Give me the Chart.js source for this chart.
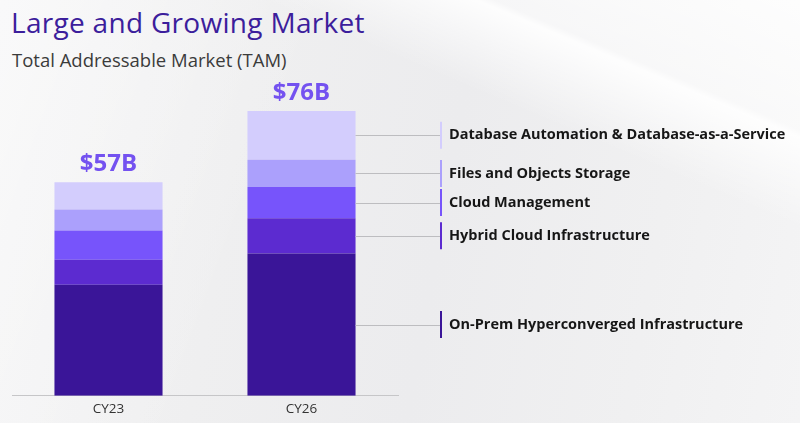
<!DOCTYPE html>
<html>
<head>
<meta charset="utf-8">
<script src="https://cdn.jsdelivr.net/npm/chart.js@4.4.1/dist/chart.umd.min.js"></script>
<style>
  html, body { margin: 0; padding: 0; }
  body { width: 800px; height: 423px; overflow: hidden; }
  #wrap {
    position: relative; width: 800px; height: 423px;
    background:
      linear-gradient(203deg, rgba(255,255,255,0.85) 0%, rgba(255,255,255,0.55) 17%, rgba(255,255,255,0.9) 18%, rgba(255,255,255,0) 30%),
      linear-gradient(110deg, rgba(255,255,255,0.5) 0%, rgba(255,255,255,0) 35%),
      linear-gradient(100deg, #f4f4f5 0%, #efeff0 30%, #ececee 55%, #f0f0f1 80%, #f4f4f5 100%);
  }
  #title {
    position: absolute; left: 11px; top: 3px; margin: 0;
    font-family: "Open Sans", sans-serif; font-weight: 400; font-size: 28px;
    color: #3c1e9c; letter-spacing: 0.3px;
  }
  #subtitle {
    position: absolute; left: 12px; top: 47px; margin: 0;
    font-family: "Open Sans", sans-serif; font-weight: 400; font-size: 18.5px;
    color: #3b3b3b;
  }
  canvas { position: absolute; left: 0; top: 0; }
</style>
</head>
<body>
<div id="wrap">
  <h1 id="title">Large and Growing Market</h1>
  <h2 id="subtitle">Total Addressable Market (TAM)</h2>
  <canvas id="tam-chart" width="800" height="423"></canvas>
</div>
<script>
// values in $B
const categories = ['CY23', 'CY26'];
const totalLabels = ['$57B', '$76B'];
const segmentNames = [
  'On-Prem Hyperconverged Infrastructure',
  'Hybrid Cloud Infrastructure',
  'Cloud Management',
  'Files and Objects Storage',
  'Database Automation & Database-as-a-Service'
];
const onPrem = [29.6, 38.0];
const hybridCloud = [6.7, 9.4];
const cloudMgmt = [7.8, 8.3];
const filesStorage = [5.6, 7.3];
const dbAutomation = [7.3, 13.0];

const segmentColors = ['#3a1598', '#5c2bd0', '#7754fb', '#aba0fc', '#d3cdfd'];
const seriesValues = [onPrem, hybridCloud, cloudMgmt, filesStorage, dbAutomation];

const segmentLabels = {
  id: 'segmentLabels',
  afterDatasetsDraw(chart) {
    const ctx = chart.ctx;
    const lastIdx = categories.length - 1;
    ctx.save();
    // totals above each bar
    const topMeta = chart.getDatasetMeta(chart.data.datasets.length - 1);
    ctx.font = 'bold 24px "Open Sans"';
    ctx.fillStyle = '#7452f0';
    ctx.textAlign = 'center';
    ctx.textBaseline = 'middle';
    topMeta.data.forEach((bar, i) => {
      ctx.fillText(totalLabels[i], bar.x, bar.y - 18);
    });
    // connectors and names for the last bar
    const lineEnd = 440;
    chart.data.datasets.forEach((ds, d) => {
      const bar = chart.getDatasetMeta(d).data[lastIdx];
      const mid = (bar.y + bar.base) / 2;
      ctx.strokeStyle = '#bdbdc0';
      ctx.lineWidth = 1;
      ctx.beginPath();
      ctx.moveTo(bar.x + bar.width / 2, Math.round(mid) + 0.5);
      ctx.lineTo(lineEnd, Math.round(mid) + 0.5);
      ctx.stroke();
      ctx.strokeStyle = ds.backgroundColor;
      ctx.lineWidth = 2;
      ctx.beginPath();
      ctx.moveTo(lineEnd + 1, mid - 13.5);
      ctx.lineTo(lineEnd + 1, mid + 13.5);
      ctx.stroke();
      ctx.font = 'bold 14.5px "Open Sans"';
      ctx.fillStyle = '#161616';
      ctx.textAlign = 'left';
      ctx.fillText(ds.label, 449, mid);
    });
    ctx.restore();
  }
};

new Chart(document.getElementById('tam-chart'), {
  type: 'bar',
  data: {
    labels: categories,
    datasets: seriesValues.map((vals, i) => ({
      label: segmentNames[i],
      data: vals,
      backgroundColor: segmentColors[i],
      borderWidth: 0,
      categoryPercentage: 1.0,
      barPercentage: 0.56
    }))
  },
  options: {
    responsive: false,
    animation: false,
    devicePixelRatio: 1,
    layout: { padding: { top: 96, left: 12, right: 402, bottom: 1 } },
    plugins: {
      legend: { display: false },
      tooltip: { enabled: false }
    },
    scales: {
      x: {
        stacked: true,
        grid: { display: false, drawTicks: false },
        border: { display: true, color: '#c6c6c8', width: 1 },
        ticks: {
          color: '#333333',
          padding: 5,
          font: { size: 13.5, family: 'Open Sans' }
        }
      },
      y: {
        stacked: true,
        display: false,
        min: 0,
        max: 80
      }
    }
  },
  plugins: [segmentLabels]
});
</script>
</body>
</html>
